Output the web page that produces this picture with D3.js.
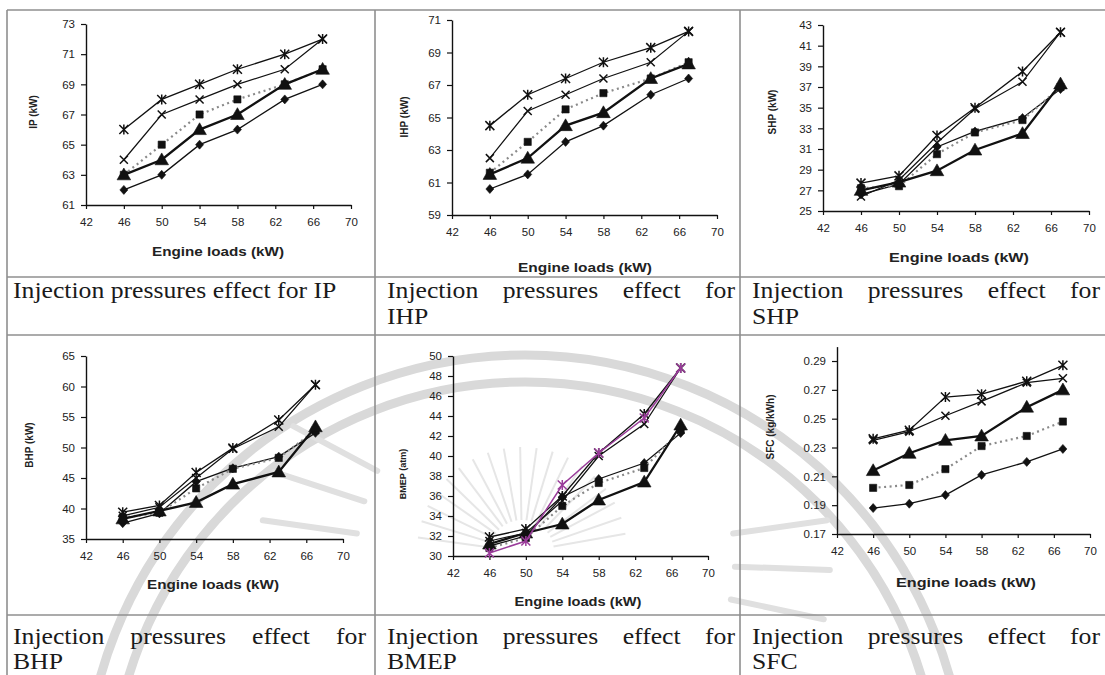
<!DOCTYPE html>
<html>
<head>
<meta charset="utf-8">
<script src="https://cdn.jsdelivr.net/npm/d3@7"></script>
<style>
  body { margin: 0; background: #fff; }
  svg { display: block; }
</style>
</head>
<body>
<svg id="chart" width="1105" height="675"></svg>
<script>
// ---- data -------------------------------------------------------------
const loads = [46, 50, 54, 58, 63, 67];           // engine load (kW)
const xTickValues = [42, 46, 50, 54, 58, 62, 66, 70];

// IP (kW)
const ipDiamond  = [62, 63, 65, 66, 68, 69];
const ipSquare   = [63, 65, 67, 68, 69, 70];
const ipTriangle = [63, 64, 66, 67, 69, 70];
const ipCross    = [64, 67, 68, 69, 70, 72];
const ipStar     = [66, 68, 69, 70, 71, 72];
const ipTicks    = [61, 63, 65, 67, 69, 71, 73];

// IHP (kW)
const ihpDiamond  = [60.6, 61.5, 63.5, 64.5, 66.4, 67.4];
const ihpSquare   = [61.6, 63.5, 65.5, 66.5, 67.4, 68.4];
const ihpTriangle = [61.5, 62.5, 64.5, 65.3, 67.4, 68.3];
const ihpCross    = [62.5, 65.4, 66.4, 67.4, 68.4, 70.3];
const ihpStar     = [64.5, 66.4, 67.4, 68.4, 69.3, 70.3];
const ihpTicks    = [59, 61, 63, 65, 67, 69, 71];

// SHP (kW)
const shpDiamond  = [26.6, 27.6, 31.2, 32.7, 34.0, 36.8];
const shpSquare   = [27.2, 27.4, 30.5, 32.6, 33.8, 37.0];
const shpTriangle = [27.0, 27.8, 28.9, 30.9, 32.5, 37.3];
const shpCross    = [26.4, 28.0, 31.6, 34.9, 37.5, 42.3];
const shpStar     = [27.7, 28.4, 32.3, 35.0, 38.5, 42.3];
const shpTicks    = [25, 27, 29, 31, 33, 35, 37, 39, 41, 43];

// BHP (kW)
const bhpDiamond  = [37.6, 39.2, 44.4, 46.6, 48.5, 52.4];
const bhpSquare   = [38.5, 39.3, 43.3, 46.5, 48.3, 52.8];
const bhpTriangle = [38.3, 39.6, 41.0, 44.0, 46.0, 53.4];
const bhpCross    = [38.8, 40.2, 45.0, 49.8, 53.4, 60.3];
const bhpStar     = [39.4, 40.5, 45.9, 49.9, 54.5, 60.3];
const bhpTicks    = [35, 40, 45, 50, 55, 60, 65];

// BMEP (atm)
const bmepDiamond  = [31.0, 32.0, 35.9, 37.7, 39.3, 42.3];
const bmepSquare   = [30.8, 31.8, 35.0, 37.3, 38.8, 42.6];
const bmepTriangle = [31.2, 32.3, 33.2, 35.6, 37.4, 43.1];
const bmepCross    = [31.5, 32.3, 35.5, 40.0, 43.2, 48.8];
const bmepStar     = [31.9, 32.7, 36.0, 40.3, 44.2, 48.8];
const bmepPurple   = [30.3, 31.5, 37.1, 40.3, 43.8, 48.8];
const bmepTicks    = [30, 32, 34, 36, 38, 40, 42, 44, 46, 48, 50];

// SFC (kg/kWh)
const sfcDiamond  = [0.188, 0.191, 0.197, 0.211, 0.220, 0.229];
const sfcSquare   = [0.202, 0.204, 0.215, 0.231, 0.238, 0.248];
const sfcTriangle = [0.214, 0.226, 0.235, 0.238, 0.258, 0.270];
const sfcCross    = [0.235, 0.241, 0.252, 0.262, 0.275, 0.278];
const sfcStar     = [0.236, 0.242, 0.265, 0.267, 0.276, 0.287];
const sfcTicks    = [0.17, 0.19, 0.21, 0.23, 0.25, 0.27, 0.29];

const yTitles = ["IP (kW)", "IHP (kW)", "SHP (kW)", "BHP (kW)", "BMEP (atm)", "SFC (kg/kWh)"];
const xTitle = "Engine loads (kW)";
const captionLines = [
  ["Injection pressures effect for IP"],
  ["Injection pressures effect for", "IHP"],
  ["Injection pressures effect for", "SHP"],
  ["Injection pressures effect for", "BHP"],
  ["Injection pressures effect for", "BMEP"],
  ["Injection pressures effect for", "SFC"]
];

// ---- panel definitions -------------------------------------------------
const panels = [
  { title: yTitles[0], ticks: ipTicks, domain: [61, 73],
    series: { diamond: ipDiamond, square: ipSquare, triangle: ipTriangle, cross: ipCross, star: ipStar } },
  { title: yTitles[1], ticks: ihpTicks, domain: [59, 71],
    series: { diamond: ihpDiamond, square: ihpSquare, triangle: ihpTriangle, cross: ihpCross, star: ihpStar } },
  { title: yTitles[2], ticks: shpTicks, domain: [25, 43],
    series: { diamond: shpDiamond, square: shpSquare, triangle: shpTriangle, cross: shpCross, star: shpStar } },
  { title: yTitles[3], ticks: bhpTicks, domain: [35, 65],
    series: { diamond: bhpDiamond, square: bhpSquare, triangle: bhpTriangle, cross: bhpCross, star: bhpStar } },
  { title: yTitles[4], ticks: bmepTicks, domain: [30, 50],
    series: { diamond: bmepDiamond, square: bmepSquare, triangle: bmepTriangle, cross: bmepCross, star: bmepStar, purple: bmepPurple } },
  { title: yTitles[5], ticks: sfcTicks, domain: [0.17, 0.30], fmt: d3.format(".2f"),
    series: { diamond: sfcDiamond, square: sfcSquare, triangle: sfcTriangle, cross: sfcCross, star: sfcStar } }
];

// plot boxes (pixel layout of each small chart)
const layout = [
  { l: 86,  r: 351,  t: 24,  b: 205, ylx: 33,  yly: 112, ylfs: 10,  xlx: 218, xly: 256, xlw: 132 },
  { l: 452, r: 717,  t: 20,  b: 215, ylx: 404, yly: 117, ylfs: 10,  xlx: 585, xly: 272, xlw: 134 },
  { l: 823, r: 1089, t: 25,  b: 211, ylx: 772, yly: 112, ylfs: 10,  xlx: 959, xly: 262, xlw: 140 },
  { l: 86,  r: 343,  t: 356, b: 539, ylx: 29,  yly: 445, ylfs: 10,  xlx: 213, xly: 589, xlw: 132 },
  { l: 453, r: 708,  t: 356, b: 556, ylx: 403, yly: 474, ylfs: 9,   xlx: 578, xly: 606, xlw: 127 },
  { l: 837, r: 1090, t: 346.6, b: 534, ylx: 770, yly: 427, ylfs: 10, xlx: 966, xly: 587, xlw: 140 }
];

const svg = d3.select("#chart");
svg.append("rect").attr("width", 1105).attr("height", 675).attr("fill", "#fff");

// ---- background emblem ------------------------------------------------
const wm = svg.append("g").attr("class", "emblem").attr("fill", "none");
[441, 414].forEach(r => {
  wm.append("circle").attr("cx", 525).attr("cy", 796).attr("r", r)
    .attr("stroke", "#d9d9d9").attr("stroke-width", 9);
});
const sun = { x: 522, y: 552 };
d3.range(-172, -6, 9).forEach(a => {
  const rad = a * Math.PI / 180;
  wm.append("line")
    .attr("x1", sun.x + 32 * Math.cos(rad)).attr("y1", sun.y + 32 * Math.sin(rad))
    .attr("x2", sun.x + 105 * Math.cos(rad)).attr("y2", sun.y + 105 * Math.sin(rad))
    .attr("stroke", "#e6e6e6").attr("stroke-width", 2);
});
const big = { x: 545, y: 560 };
[-172, -162, -152, -8, 2, 12].forEach(a => {
  const rad = a * Math.PI / 180;
  wm.append("line")
    .attr("x1", big.x + 190 * Math.cos(rad)).attr("y1", big.y + 190 * Math.sin(rad))
    .attr("x2", big.x + 285 * Math.cos(rad)).attr("y2", big.y + 285 * Math.sin(rad))
    .attr("stroke", "#e0e0e0").attr("stroke-width", 6).attr("stroke-linecap", "round");
});

// ---- table rules ------------------------------------------------------
const rules = svg.append("g").attr("stroke", "#8f8f8f").attr("stroke-width", 1.6);
[10, 277, 335, 615].forEach(y => rules.append("line").attr("x1", 7).attr("x2", 1105).attr("y1", y).attr("y2", y));
[7, 375, 740].forEach(x => rules.append("line").attr("x1", x).attr("x2", x).attr("y1", 10).attr("y2", 675));

// ---- marker shapes ----------------------------------------------------
const markerPath = {
  diamond:  "M0,-4.5L4,0L0,4.5L-4,0Z",
  square:   "M-3.6,-3.6h7.2v7.2h-7.2Z",
  triangle: "M0,-6.8L6.8,5L-6.8,5Z",
  cross:    "M-4,-4L4,4M-4,4L4,-4",
  star:     "M-4.5,-4.5L4.5,4.5M-4.5,4.5L4.5,-4.5M0,-5L0,5",
  purple:   "M-4.5,-4.5L4.5,4.5M-4.5,4.5L4.5,-4.5M0,-5L0,5"
};
const lineStyle = {
  diamond:  { stroke: "#111", width: 1.3, dash: null },
  square:   { stroke: "#8a8a8a", width: 2.2, dash: "2,3.5" },
  triangle: { stroke: "#111", width: 2.3, dash: null },
  cross:    { stroke: "#111", width: 1.2, dash: null },
  star:     { stroke: "#111", width: 1.3, dash: null },
  purple:   { stroke: "#9a3c9a", width: 1.5, dash: null }
};
const filled = { diamond: true, square: true, triangle: true };

// ---- panels -----------------------------------------------------------
panels.forEach((p, i) => {
  const L = layout[i];
  const g = svg.append("g");
  const x = d3.scaleLinear().domain([42, 70]).range([L.l, L.r]);
  const y = d3.scaleLinear().domain(p.domain).range([L.b, L.t]);

  const yAxis = g.append("g").attr("transform", `translate(${L.l},0)`)
    .call(d3.axisLeft(y).tickValues(p.ticks).tickSize(5).tickSizeOuter(0).tickPadding(6)
      .tickFormat(p.fmt || d3.format("d")));
  const xAxis = g.append("g").attr("transform", `translate(0,${L.b})`)
    .call(d3.axisBottom(x).tickValues(xTickValues).tickSize(4).tickSizeOuter(0).tickPadding(9));
  [yAxis, xAxis].forEach(a => {
    a.select(".domain").attr("stroke", "#111").attr("stroke-width", 1.4);
    a.selectAll(".tick line").attr("stroke", "#111").attr("stroke-width", 1.2);
    a.selectAll(".tick text").attr("font-family", "Arial, 'Liberation Sans', sans-serif")
      .attr("font-size", 11.5).attr("fill", "#222");
  });

  // axis titles
  g.append("text")
    .attr("transform", `translate(${L.ylx},${L.yly}) rotate(-90)`)
    .attr("text-anchor", "middle").attr("dy", "0.35em")
    .attr("font-family", "Arial, 'Liberation Sans', sans-serif")
    .attr("font-weight", "bold").attr("font-size", L.ylfs).attr("fill", "#222")
    .text(p.title);
  g.append("text")
    .attr("x", L.xlx - L.xlw / 2).attr("y", L.xly)
    .attr("textLength", L.xlw).attr("lengthAdjust", "spacingAndGlyphs")
    .attr("font-family", "Arial, 'Liberation Sans', sans-serif")
    .attr("font-weight", "bold").attr("font-size", 12).attr("fill", "#222")
    .text(xTitle);

  // series
  const line = d3.line().x(d => x(d[0])).y(d => y(d[1]));
  Object.entries(p.series).forEach(([kind, vals]) => {
    const pts = loads.map((l, k) => [l, vals[k]]);
    const st = lineStyle[kind];
    g.append("path").datum(pts).attr("d", line).attr("fill", "none")
      .attr("stroke", st.stroke).attr("stroke-width", st.width)
      .attr("stroke-dasharray", st.dash);
    g.selectAll(null).data(pts).join("path")
      .attr("transform", d => `translate(${x(d[0])},${y(d[1])})`)
      .attr("d", markerPath[kind])
      .attr("fill", filled[kind] ? "#111" : "none")
      .attr("stroke", kind === "purple" ? "#9a3c9a" : "#111")
      .attr("stroke-width", filled[kind] ? 0.6 : 1.5);
  });
});

// ---- captions (justified like a table cell) -----------------------------
const SX = 1.07, CAP_FS = 24;
const capCols = [[13, 366], [387, 735], [752, 1100]];
const capRows = [298, 644];
const capGap = [26, 25];
const capG = svg.append("g")
  .attr("font-family", "'Liberation Serif', 'Times New Roman', serif")
  .attr("font-size", CAP_FS).attr("fill", "#1a1a1a");
captionLines.forEach((lines, i) => {
  const [x0, x1] = capCols[i % 3];
  const row = Math.floor(i / 3);
  lines.forEach((ln, li) => {
    const words = ln.split(" ");
    const justify = li < lines.length - 1 && words.length > 1;
    const nodes = words.map(w => capG.append("text").text(w));
    const widths = nodes.map(n => n.node().getComputedTextLength() * SX);
    const total = d3.sum(widths);
    const gap = justify ? (x1 - x0 - total) / (words.length - 1) : 0.25 * CAP_FS * SX;
    let cx = x0;
    const yb = capRows[row] + li * capGap[row];
    nodes.forEach((n, k) => {
      n.attr("transform", `translate(${cx},${yb}) scale(${SX},1)`);
      cx += widths[k] + gap;
    });
  });
});
</script>
</body>
</html>
